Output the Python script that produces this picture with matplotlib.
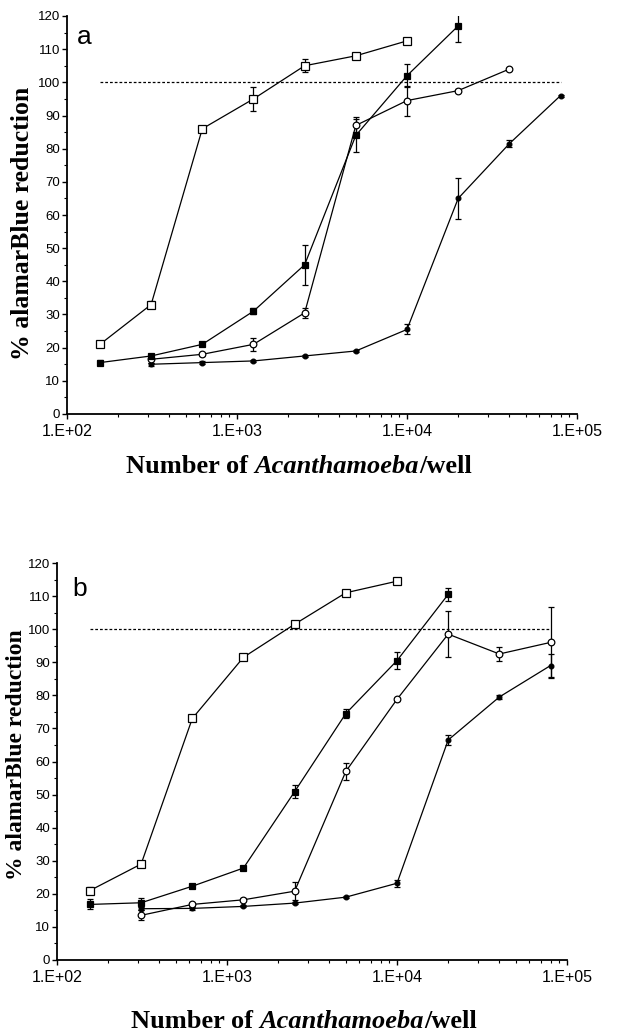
import matplotlib
matplotlib.use("Agg")
import matplotlib.pyplot as plt
from matplotlib.ticker import LogLocator, FixedLocator, MultipleLocator, NullFormatter

# ---------------- data ----------------
x_cells = [156.25, 312.5, 625, 1250, 2500, 5000, 10000, 20000, 40000, 80000]

# panel a
a_open_sq_y = [21, 33, 86, 95, 105, 108, 112.5]
a_open_sq_e = [0.6, 1.0, 0.5, 3.5, 2.0, 0.5, 0.5]
a_fill_sq_y = [15.5, 17.5, 21, 31, 45, 84, 102, 117]
a_fill_sq_e = [0.8, 0.5, 0.6, 1.0, 6.0, 5.0, 3.5, 4.8]
a_open_ci_y = [16.5, 18, 21, 30.5, 87, 94.5, 97.5, 104]
a_open_ci_e = [1.0, 0.5, 2.0, 1.5, 2.5, 4.5, 0.5, 0.3]
a_fill_ci_y = [15, 15.5, 16, 17.5, 19, 25.5, 65, 81.5, 96]
a_fill_ci_e = [0.5, 0.4, 0.3, 0.4, 0.4, 1.5, 6.3, 1.0, 0.3]

# panel b
b_open_sq_y = [21, 29, 73, 91.5, 101.5, 111, 114.5]
b_open_sq_e = [1.0, 0.5, 0.5, 0.5, 1.0, 0.5, 0.5]
b_fill_sq_y = [16.8, 17.3, 22.3, 27.8, 50.9, 74.5, 90.5, 110.5]
b_fill_sq_e = [1.5, 1.3, 0.5, 0.5, 2.0, 1.5, 2.5, 2.0]
b_open_ci_y = [13.5, 16.8, 18.2, 20.8, 57, 78.8, 98.5, 92.5, 96]
b_open_ci_e = [1.5, 0.5, 0.4, 2.8, 2.5, 0.5, 7.0, 2.0, 10.8]
b_fill_ci_y = [15.5, 15.6, 16.2, 17.2, 19, 23.2, 66.5, 79.5, 89]
b_fill_ci_e = [0.5, 0.4, 0.3, 0.3, 0.4, 1.0, 1.5, 0.5, 3.5]

ref_level = 100
ref_x = [156.25, 80000]

x_tick_vals = [1e2, 1e3, 1e4, 1e5]
x_tick_labels = ["1.E+02", "1.E+03", "1.E+04", "1.E+05"]
y_ticks = list(range(0, 121, 10))

ylabel = "% alamarBlue reduction"
xlabel_parts = ["Number of ", "Acanthamoeba", "/well"]
panel_letters = ["a", "b"]

# ---------------- figure ----------------
W, H = 617, 1034
fig = plt.figure(figsize=(W / 100, H / 100), dpi=100)
fig.patch.set_facecolor("white")


def fx(px):
    return px / W


def fy(py):
    return 1 - py / H


# axes rectangles in pixels (left, top, right, bottom)
rects = [(67, 16, 577, 414), (57, 563, 567, 960)]

sans = "Liberation Sans"
serif = "Liberation Serif"

panels = [
    [
        (x_cells[1:], a_fill_ci_y, a_fill_ci_e, "o", "k", 3.4),
        (x_cells[1:9], a_open_ci_y, a_open_ci_e, "o", "w", 4.8),
        (x_cells[:8], a_fill_sq_y, a_fill_sq_e, "s", "k", 4.6),
        (x_cells[:7], a_open_sq_y, a_open_sq_e, "s", "w", 6.2),
    ],
    [
        (x_cells[1:], b_fill_ci_y, b_fill_ci_e, "o", "k", 3.4),
        (x_cells[1:], b_open_ci_y, b_open_ci_e, "o", "w", 4.8),
        (x_cells[:8], b_fill_sq_y, b_fill_sq_e, "s", "k", 4.6),
        (x_cells[:7], b_open_sq_y, b_open_sq_e, "s", "w", 6.2),
    ],
]

ylabel_cfg = [(23, 223, 18.5), (17, 755, 17)]
xlabel_cfg = [(299, 467), (304, 1022)]
letter_cfg = [(84, 44), (80, 596)]

for i, (l, t, r, b) in enumerate(rects):
    ax = fig.add_axes([fx(l), fy(b), fx(r) - fx(l), fy(t) - fy(b)])
    ax.set_xscale("log")
    ax.set_xlim(1e2, 1e5)
    ax.set_ylim(0, 120)
    for s in ["top", "right"]:
        ax.spines[s].set_visible(False)
    for s in ["left", "bottom"]:
        ax.spines[s].set_linewidth(1.3)
    ax.set_facecolor("white")

    # reference dashed line
    ax.plot(ref_x, [ref_level, ref_level], color="k", lw=0.9,
            ls=(0, (2.2, 1.6)), zorder=1)

    for xs, ys, es, mk, fc, ms in panels[i]:
        ax.errorbar(xs, ys, yerr=es, fmt="-", color="k", lw=0.9,
                    elinewidth=0.9, capsize=2.3, capthick=0.9,
                    marker=mk, mfc=fc, mec="k", mew=0.9, ms=ms, zorder=3)

    ax.xaxis.set_major_locator(FixedLocator(x_tick_vals))
    ax.set_xticklabels(x_tick_labels, fontfamily=sans, fontsize=11.5)
    ax.xaxis.set_minor_locator(LogLocator(base=10, subs=range(2, 10), numticks=20))
    ax.xaxis.set_minor_formatter(NullFormatter())
    ax.set_yticks(y_ticks)
    ax.set_yticklabels([str(v) for v in y_ticks], fontfamily=sans, fontsize=9.5)
    ax.yaxis.set_minor_locator(MultipleLocator(5))
    ax.tick_params(axis="both", which="major", direction="out", length=3.5,
                   width=1.0, color="k")
    ax.tick_params(axis="both", which="minor", direction="out", length=2.2,
                   width=0.8, color="k")
    ax.tick_params(axis="x", which="major", pad=3.5)
    ax.tick_params(axis="y", which="major", pad=1.5)

    # y label
    yx, yy, ys_ = ylabel_cfg[i]
    fig.text(fx(yx), fy(yy), ylabel, rotation=90, ha="center", va="center",
             fontfamily=serif, fontweight="bold", fontsize=ys_)

    # panel letter
    lx, ly = letter_cfg[i]
    fig.text(fx(lx), fy(ly), panel_letters[i], ha="center", va="baseline",
             fontfamily=sans, fontsize=19)

# x labels built from pieces (bold, bold italic, bold)
fig.canvas.draw()
renderer = fig.canvas.get_renderer()
for i, (cx, cy) in enumerate(xlabel_cfg):
    styles = ["normal", "italic", "normal"]
    texts = []
    for part, st in zip(xlabel_parts, styles):
        t = fig.text(0, fy(cy), part, ha="left", va="center", fontfamily=serif,
                     fontweight="bold", fontstyle=st, fontsize=19)
        texts.append(t)
    widths = [t.get_window_extent(renderer).width for t in texts]
    total = sum(widths)
    pos = cx - total / 2
    for t, w in zip(texts, widths):
        t.set_x(fx(pos))
        pos += w

fig.savefig("out.png", dpi=100, facecolor="white")
